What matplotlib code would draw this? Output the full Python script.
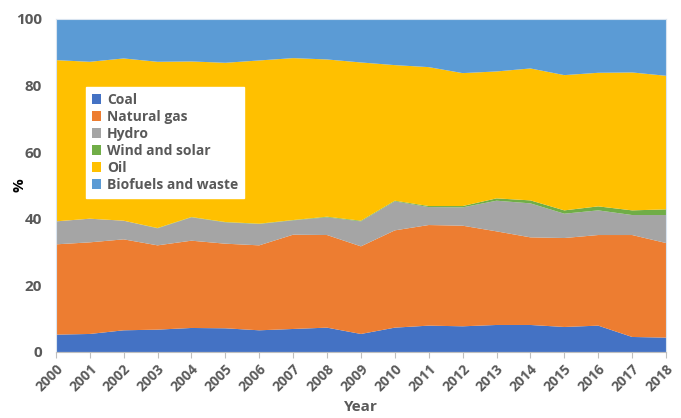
import matplotlib
matplotlib.use("Agg")
import matplotlib.pyplot as plt
import numpy as np

# share of total energy supply by source, %
years = list(range(2000, 2019))
coal = [5.2, 5.4, 6.5, 6.7, 7.2, 7.1, 6.5, 6.9, 7.3, 5.4, 7.3, 7.9, 7.7, 8.1, 8.1, 7.5, 7.9, 4.5, 4.3]
natural_gas = [27.1, 27.5, 27.3, 25.3, 26.2, 25.4, 25.5, 28.3, 27.8, 26.3, 29.2, 30.2, 30.2, 28.1, 26.3, 26.7, 27.2, 30.6, 28.4]
hydro = [6.9, 7.1, 5.6, 5.1, 7.0, 6.4, 6.4, 4.3, 5.3, 7.5, 8.7, 5.4, 5.5, 9.2, 10.2, 7.3, 7.4, 6.0, 8.4]
wind_solar = [0.0, 0.0, 0.0, 0.1, 0.1, 0.1, 0.1, 0.1, 0.2, 0.2, 0.2, 0.3, 0.4, 0.7, 0.9, 1.0, 1.2, 1.4, 1.7]
oil = [48.4, 47.1, 48.7, 49.9, 46.7, 47.8, 49.0, 48.6, 47.2, 47.5, 40.7, 41.7, 39.9, 38.1, 39.6, 40.6, 40.1, 41.4, 40.1]
biofuels = [12.4, 12.9, 11.9, 12.9, 12.8, 13.2, 12.5, 11.8, 12.2, 13.1, 13.9, 14.5, 16.3, 15.8, 14.9, 16.9, 16.2, 16.1, 17.1]

labels = ["Coal", "Natural gas", "Hydro", "Wind and solar", "Oil", "Biofuels and waste"]
colors = ["#4472C4", "#ED7D31", "#A5A5A5", "#70AD47", "#FFC000", "#5B9BD5"]

plt.rcParams["font.family"] = ["Open Sans", "DejaVu Sans"]
plt.rcParams["font.weight"] = "bold"

fig = plt.figure(figsize=(6.81, 4.18), dpi=100)
ax = fig.add_axes([0.082, 0.158, 0.896, 0.797])

ax.stackplot(years, coal, natural_gas, hydro, wind_solar, oil, biofuels,
             labels=labels, colors=colors, linewidth=0)

ax.set_xlim(2000, 2018)
ax.set_ylim(0, 100)
ax.set_yticks(np.arange(0, 101, 20))
ax.set_xticks(years)
ax.set_xticklabels([str(y) for y in years], rotation=45, ha="right",
                   rotation_mode="anchor", fontweight="bold")
ax.set_yticklabels([str(v) for v in range(0, 101, 20)], fontweight="bold")
ax.tick_params(axis="y", length=0, pad=10, labelsize=11, labelcolor="#595959")
ax.tick_params(axis="x", length=4, color="#BFBFBF", pad=3, labelsize=10,
               labelcolor="#595959")

for side in ["top", "right", "left"]:
    ax.spines[side].set_color("#D9E4F0")
    ax.spines[side].set_linewidth(0.8)
ax.spines["bottom"].set_color("#BFBFBF")

ax.set_ylabel("%", fontsize=11, fontweight="bold", color="black")
ax.yaxis.set_label_coords(-0.048, 0.5)
ax.set_xlabel("Year", fontsize=11, fontweight="bold", color="#595959", labelpad=4)

leg = ax.legend(loc="upper left", bbox_to_anchor=(0.038, 0.815), frameon=True,
                fancybox=False, edgecolor="white", framealpha=1,
                prop={"size": 10, "weight": "bold"},
                handlelength=0.7, handleheight=0.7,
                handletextpad=0.4, labelspacing=0.22, borderpad=0.4)
for t in leg.get_texts():
    t.set_color("#595959")

fig.savefig("out.png", dpi=100)
